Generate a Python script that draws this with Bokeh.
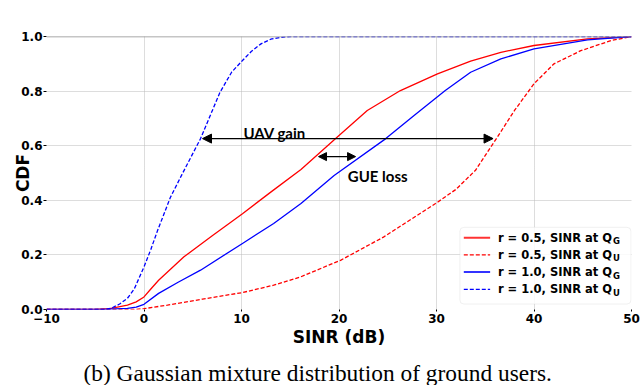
import math
from bokeh.plotting import figure
from bokeh.models import FixedTicker, Arrow, NormalHead, Label, BoxAnnotation, Span, Title
from bokeh.core.properties import value
from bokeh.embed import file_html
from bokeh.resources import INLINE

# ---------------- data ----------------
x_ticks = [-10, 0, 10, 20, 30, 40, 50]
x_tick_labels = ["\u221210", "0", "10", "20", "30", "40", "50"]
y_ticks = [0.0, 0.2, 0.4, 0.6, 0.8, 1.0]
y_tick_labels = ["0.0", "0.2", "0.4", "0.6", "0.8", "1.0"]

# r = 0.5, SINR at Q_G (red solid)
r05_qg_x = [-10, -5, -3.5, -1.7, -0.8, 0, 0.7, 1.5, 4.1, 7.0, 10.1, 13.0, 16.1, 19.8, 22.9, 26.3, 30.1, 33.5, 36.6, 40.0, 45.5, 50]
r05_qg_y = [0, 0, 0.003, 0.016, 0.028, 0.046, 0.075, 0.107, 0.193, 0.27, 0.351, 0.43, 0.513, 0.631, 0.729, 0.802, 0.863, 0.91, 0.942, 0.967, 0.991, 1.0]

# r = 0.5, SINR at Q_U (red dashed)
r05_qu_x = [-10, -1, 0, 2.4, 6.0, 10.1, 13.3, 16.1, 20.2, 24.6, 29.9, 32.0, 34.0, 36.25, 38.0, 40.0, 42.05, 44.8, 47.9, 50]
r05_qu_y = [0, 0, 0.003, 0.016, 0.038, 0.062, 0.089, 0.12, 0.181, 0.266, 0.388, 0.44, 0.51, 0.632, 0.729, 0.827, 0.9, 0.948, 0.985, 1.0]

# r = 1.0, SINR at Q_G (blue solid)
r10_qg_x = [-10, -4, -1.7, -0.8, 0, 1.5, 3.5, 5.8, 10.1, 13.3, 16.1, 19.5, 24.8, 27.7, 30.9, 33.5, 36.6, 40.0, 45.5, 50]
r10_qg_y = [0, 0, 0.004, 0.009, 0.019, 0.059, 0.1, 0.144, 0.242, 0.315, 0.388, 0.491, 0.626, 0.711, 0.802, 0.869, 0.918, 0.955, 0.988, 1.0]

# r = 1.0, SINR at Q_U (blue dashed)
r10_qu_x = [-10, -4, -3.4, -2.5, -1.7, -1.0, 0, 0.7, 1.4, 2.7, 3.9, 5.8, 7.8, 9.0, 10.1, 11.0, 12.0, 13.0, 14.0, 15.0, 50]
r10_qu_y = [0, 0, 0.004, 0.02, 0.041, 0.075, 0.156, 0.22, 0.29, 0.41, 0.495, 0.626, 0.796, 0.87, 0.912, 0.945, 0.973, 0.99, 0.997, 1.0, 1.0]

series_x = [r05_qg_x, r05_qu_x, r10_qg_x, r10_qu_x]
series_y = [r05_qg_y, r05_qu_y, r10_qg_y, r10_qu_y]
series_main = ["r = 0.5, SINR at Q", "r = 0.5, SINR at Q", "r = 1.0, SINR at Q", "r = 1.0, SINR at Q"]
series_sub = ["G", "U", "G", "U"]
series_color = ["#ff0000", "#ff0000", "#0000ff", "#0000ff"]
series_dash = ["solid", "4 2", "solid", "4 2"]

# ---------------- figure ----------------
p = figure(width=640, height=385, x_range=(-10, 50), y_range=(0, 1),
           output_backend="svg", toolbar_location=None, title=None,
           min_border_left=46, min_border_right=9, min_border_top=36, min_border_bottom=76)
p.outline_line_color = None
p.background_fill_color = "white"
p.border_fill_color = "white"

p.xaxis.ticker = FixedTicker(ticks=x_ticks)
p.xaxis.major_label_overrides = dict(zip(x_ticks, x_tick_labels))
p.yaxis.ticker = FixedTicker(ticks=y_ticks)
p.yaxis.major_label_overrides = dict(zip(y_ticks, y_tick_labels))
for ax in (p.xaxis[0], p.yaxis[0]):
    ax.axis_line_color = None
    ax.minor_tick_line_color = None
    ax.major_tick_in = 0
    ax.major_tick_out = 3
    ax.major_tick_line_color = "black"
    ax.major_label_text_font = "DejaVu Sans"
    ax.major_label_text_font_style = "bold"
    ax.major_label_text_font_size = "12px"
    ax.major_label_text_color = "black"
    ax.axis_label_text_font = "DejaVu Sans"
    ax.axis_label_text_font_style = "bold"
    ax.axis_label_text_font_size = "17px"
    ax.axis_label_text_color = "black"
p.xaxis.major_tick_out = 2
p.xaxis.major_label_standoff = 2
p.yaxis.major_label_standoff = 1
p.xaxis.axis_label = "SINR (dB)"
p.xaxis.axis_label_standoff = 1
p.yaxis.axis_label = "CDF"
p.yaxis.axis_label_standoff = -15

for g in (p.xgrid[0], p.ygrid[0]):
    g.grid_line_color = "#bbbbbb"
    g.grid_line_dash = "1 1"
    g.grid_line_width = 1

p.add_layout(Span(location=1.0, dimension="width", line_color="#8c8c8c", line_width=1.6))

# curves
for xs, ys, c, d in zip(series_x, series_y, series_color, series_dash):
    p.line(xs, ys, line_color=c, line_width=1.3, line_dash=d)

# annotations (arrows + text)
p.add_layout(Arrow(start=NormalHead(size=9, fill_color="black", line_color="black"),
                   end=NormalHead(size=9, fill_color="black", line_color="black"),
                   x_start=6.0, y_start=0.626, x_end=35.8, y_end=0.626,
                   line_color="black", line_width=1.3))
p.add_layout(Arrow(start=NormalHead(size=8, fill_color="black", line_color="black"),
                   end=NormalHead(size=8, fill_color="black", line_color="black"),
                   x_start=17.9, y_start=0.56, x_end=21.7, y_end=0.56,
                   line_color="black", line_width=1.3))
p.add_layout(Label(x=10.2, y=0.647, text="UAV gain", text_font="Lato", text_font_style="bold",
                   text_font_size="15px", text_baseline="alphabetic", text_color="black"))
p.add_layout(Label(x=20.9, y=0.49, text="GUE loss", text_font="Lato", text_font_style="bold",
                   text_font_size="15px", text_baseline="alphabetic", text_color="black"))

# legend (drawn by hand so the subscripts can be real text)
p.add_layout(BoxAnnotation(left=32.4, right=49.95, top=0.301, bottom=0.020,
                           fill_color="white", fill_alpha=0.85, line_color="#cccccc",
                           line_width=1, border_radius=4, level="underlay"))
leg_y = [0.263, 0.200, 0.137, 0.074]
for yy, c, d in zip(leg_y, series_color, series_dash):
    p.line([32.8, 35.5], [yy, yy], line_color=c, line_width=2.0 if d == "solid" else 1.2,
           line_dash=d, line_alpha=0.8 if d == "solid" else 1.0)
p.text(x=[36.3] * 4, y=leg_y, text=series_main, text_font=value("DejaVu Sans"),
       text_font_style="bold", text_font_size="11.5px", text_baseline="middle", text_color="black")
p.text(x=[36.3] * 4, y=leg_y, text=series_sub, text_font=value("DejaVu Sans"),
       text_font_style="bold", text_font_size="8.5px", text_baseline="middle", text_color="black",
       x_offset=115, y_offset=3.5)

# spacer + caption below the plot
p.add_layout(Title(text=" ", text_font_size="5px", standoff=0), "below")
p.add_layout(Title(text="(b) Gaussian mixture distribution of ground users.", align="left",
                   offset=37, text_font="Liberation Serif", text_font_style="normal",
                   text_font_size="23.4px", text_color="black", standoff=0), "below")

open("out.html", "w").write(file_html(p, INLINE))
